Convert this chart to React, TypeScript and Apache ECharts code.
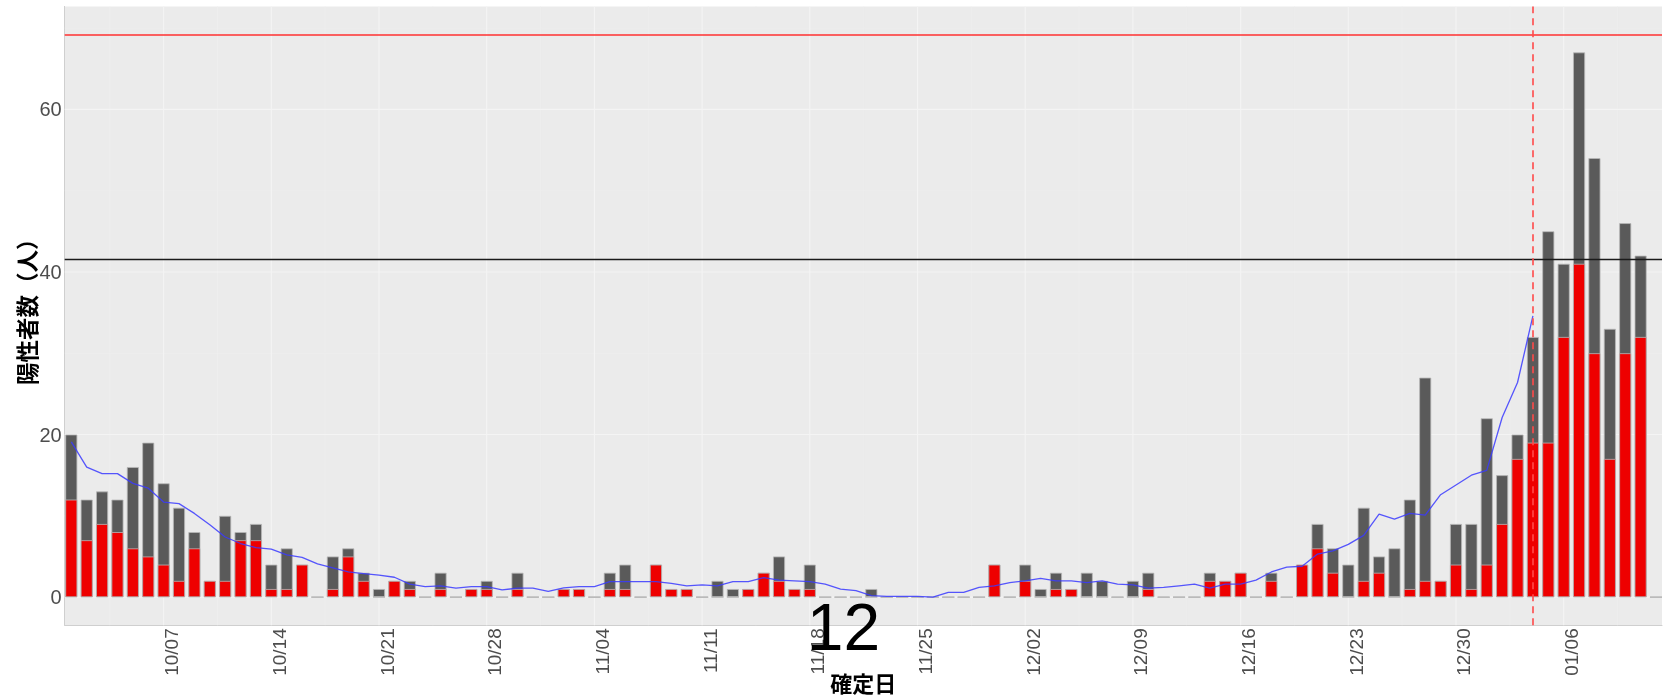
import React, { useEffect, useRef } from "react";
import * as echarts from "echarts";

// ---- data ----
const DATES = [
  "10/01","10/02","10/03","10/04","10/05","10/06","10/07","10/08","10/09","10/10",
  "10/11","10/12","10/13","10/14","10/15","10/16","10/17","10/18","10/19","10/20",
  "10/21","10/22","10/23","10/24","10/25","10/26","10/27","10/28","10/29","10/30",
  "10/31","11/01","11/02","11/03","11/04","11/05","11/06","11/07","11/08","11/09",
  "11/10","11/11","11/12","11/13","11/14","11/15","11/16","11/17","11/18","11/19",
  "11/20","11/21","11/22","11/23","11/24","11/25","11/26","11/27","11/28","11/29",
  "11/30","12/01","12/02","12/03","12/04","12/05","12/06","12/07","12/08","12/09",
  "12/10","12/11","12/12","12/13","12/14","12/15","12/16","12/17","12/18","12/19",
  "12/20","12/21","12/22","12/23","12/24","12/25","12/26","12/27","12/28","12/29",
  "12/30","12/31","01/01","01/02","01/03","01/04","01/05","01/06","01/07","01/08",
  "01/09","01/10","01/11","01/12",
];

const TOTAL = [
  20, 12, 13, 12, 16, 19, 14, 11, 8, 2,
  10, 8, 9, 4, 6, 4, 0, 5, 6, 3,
  1, 2, 2, 0, 3, 0, 1, 2, 0, 3,
  0, 0, 1, 1, 0, 3, 4, 0, 4, 1,
  1, 0, 2, 1, 1, 3, 5, 1, 4, 0,
  0, 0, 1, 0, 0, 0, 0, 0, 0, 0,
  4, 0, 4, 1, 3, 1, 3, 2, 0, 2,
  3, 0, 0, 0, 3, 2, 3, 0, 3, 0,
  4, 9, 6, 4, 11, 5, 6, 12, 27, 2,
  9, 9, 22, 15, 20, 32, 45, 41, 67, 54,
  33, 46, 42, 0,
];

const RED = [
  12, 7, 9, 8, 6, 5, 4, 2, 6, 2,
  2, 7, 7, 1, 1, 4, 0, 1, 5, 2,
  0, 2, 1, 0, 1, 0, 1, 1, 0, 1,
  0, 0, 1, 1, 0, 1, 1, 0, 4, 1,
  1, 0, 0, 0, 1, 3, 2, 1, 1, 0,
  0, 0, 0, 0, 0, 0, 0, 0, 0, 0,
  4, 0, 2, 0, 1, 1, 0, 0, 0, 0,
  1, 0, 0, 0, 2, 2, 3, 0, 2, 0,
  4, 6, 3, 0, 2, 3, 0, 1, 2, 2,
  4, 1, 4, 9, 17, 19, 19, 32, 41, 30,
  17, 30, 32, 0,
];

const TREND = [
  19.1, 16.0, 15.2, 15.2, 14.0, 13.4, 11.7, 11.5, 10.3, 8.9,
  7.4, 6.6, 6.1, 5.9, 5.2, 4.9, 4.1, 3.6, 3.1, 2.9,
  2.7, 2.45, 1.6, 1.3, 1.4, 1.1, 1.3, 1.3, 0.9, 1.1,
  1.1, 0.7, 1.15, 1.3, 1.3, 1.9, 1.9, 1.9, 1.9, 1.7,
  1.4, 1.5, 1.4, 1.9, 1.9, 2.4, 2.1, 2.0, 1.9, 1.6,
  1.0, 0.8, 0.2, 0.1, 0.1, 0.1, 0.0, 0.6, 0.6, 1.2,
  1.4, 1.8, 2.0, 2.3, 2.0, 2.0, 1.8, 2.0, 1.6, 1.5,
  1.1, 1.2, 1.4, 1.6, 1.1, 1.6, 1.6, 2.1, 3.1, 3.7,
  3.8, 5.3, 5.7, 6.5, 7.6, 10.2, 9.6, 10.3, 10.1, 12.6,
  13.8, 15.0, 15.6, 22.1, 26.4, 34.6,
];

const TICK_LABELS = [
  "10/07","10/14","10/21","10/28","11/04","11/11","11/18",
  "11/25","12/02","12/09","12/16","12/23","12/30","01/06",
];
const Y_TICKS = [0, 20, 40, 60];
const Y_MINOR = [10, 30, 50, 70];
const UPPER_LINE = 69.2;
const LOWER_LINE = 41.6;
const MARK_DATE = "01/04";
const ANNOTATION = "12";
const Y_TITLE = "陽性者数（人）";
const X_TITLE = "確定日";

// axis extents (ggplot-like expansion)
const X_MIN = -0.43;
const X_MAX = 103.39;
const Y_MIN = -3.46;
const Y_MAX = 72.66;

const SANS = "'Liberation Sans', Arial, sans-serif";
const CJK = "'Noto Sans CJK JP', 'Noto Sans', sans-serif";

export default function App() {
  const ref = useRef<HTMLDivElement>(null);

  useEffect(() => {
    if (!ref.current) return;
    const chart = echarts.init(ref.current, undefined, { renderer: "svg" });

    const tickIdx = TICK_LABELS.map((l) => DATES.indexOf(l));
    const minorX: number[] = [];
    tickIdx.forEach((t) => minorX.push(t - 3.5));
    minorX.push(tickIdx[tickIdx.length - 1] + 3.5);
    const gridItems: number[][] = [];
    minorX.filter((v) => v > X_MIN && v < X_MAX).forEach((v) => gridItems.push([0, v, 0]));
    Y_MINOR.filter((v) => v > Y_MIN && v < Y_MAX).forEach((v) => gridItems.push([1, v, 0]));
    tickIdx.forEach((v) => gridItems.push([0, v, 1]));
    Y_TICKS.forEach((v) => gridItems.push([1, v, 1]));

    const totalData = TOTAL.map((v, i) => [i, v]);
    const redData = RED.map((v, i) => [i, v]);
    const trendData = TREND.map((v, i) => [i, v]);
    const markIdx = DATES.indexOf(MARK_DATE);

    const option: any = {
      animation: false,
      grid: {
        left: 64.7,
        right: 5,
        top: 6.4,
        bottom: 72.7,
        show: true,
        backgroundColor: "#EBEBEB",
        borderWidth: 0,
        containLabel: false,
        outerBoundsMode: "none",
      },
      xAxis: {
        type: "value",
        min: X_MIN,
        max: X_MAX,
        splitLine: { show: false },
        axisTick: { show: false },
        axisLine: { show: true, onZero: false, lineStyle: { color: "#cfcfcf", width: 1 } },
        axisLabel: {
          customValues: tickIdx,
          formatter: (v: number) => DATES[Math.round(v)] ?? "",
          rotate: 90,
          verticalAlign: "top",
          lineHeight: 16,
          color: "#4d4d4d",
          fontSize: 19,
          fontFamily: SANS,
          margin: 3,
        },
        name: X_TITLE,
        nameLocation: "middle",
        nameGap: 45.5,
        nameMoveOverlap: false,
        nameTextStyle: {
          color: "#000",
          fontSize: 22,
          lineHeight: 22,
          fontFamily: CJK,
          fontWeight: "bold",
        },
      },
      yAxis: {
        type: "value",
        min: Y_MIN,
        max: Y_MAX,
        splitLine: { show: false },
        axisTick: { show: false },
        axisLine: { show: true, onZero: false, lineStyle: { color: "#cfcfcf", width: 1 } },
        axisLabel: {
          customValues: Y_TICKS,
          formatter: (v: number) => String(v),
          color: "#4d4d4d",
          fontSize: 20,
          fontFamily: SANS,
          margin: 3,
        },
        name: Y_TITLE,
        nameLocation: "middle",
        nameRotate: 90,
        nameGap: 27,
        nameMoveOverlap: false,
        nameTextStyle: {
          color: "#000",
          fontSize: 22.5,
          fontFamily: CJK,
          fontWeight: "bold",
          padding: [0, 0, 0, 19],
        },
      },
      graphic: [
        {
          type: "text",
          x: 843.5,
          y: 627,
          z: 100,
          style: {
            text: ANNOTATION,
            fontSize: 66,
            fontFamily: SANS,
            fill: "#000",
            align: "center",
            verticalAlign: "middle",
          },
        },
      ],
      series: [
        {
          type: "custom",
          silent: true,
          z: 1,
          data: gridItems,
          renderItem: (_params: any, api: any) => {
            const orient = api.value(0);
            const v = api.value(1);
            const major = api.value(2) === 1;
            let p1: number[];
            let p2: number[];
            if (orient === 0) {
              p1 = api.coord([v, Y_MIN]);
              p2 = api.coord([v, Y_MAX]);
            } else {
              p1 = api.coord([X_MIN, v]);
              p2 = api.coord([X_MAX, v]);
            }
            return {
              type: "line",
              shape: { x1: p1[0], y1: p1[1], x2: p2[0], y2: p2[1] },
              style: {
                stroke: major ? "#f4f4f4" : "#efefef",
                lineWidth: major ? 1.1 : 0.6,
              },
            };
          },
        },
        {
          type: "bar",
          name: "total",
          data: totalData,
          barWidth: 12,
          barGap: "-100%",
          z: 2,
          itemStyle: { color: "#5a5a5a", borderColor: "#b8b8b8", borderWidth: 0.8 },
        },
        {
          type: "bar",
          name: "red",
          data: redData,
          barWidth: 12,
          barGap: "-100%",
          z: 2,
          itemStyle: { color: "#ee0000", borderColor: "#b8b8b8", borderWidth: 0.8 },
        },
        {
          type: "line",
          name: "trend",
          data: trendData,
          symbol: "none",
          showSymbol: false,
          z: 3,
          lineStyle: { color: "#3a3aff", width: 1.3, opacity: 0.85 },
          markLine: {
            silent: true,
            symbol: ["none", "none"],
            label: { show: false },
            data: [
              { yAxis: UPPER_LINE, lineStyle: { color: "#ff3030", width: 1.5, type: "solid" } },
              { yAxis: LOWER_LINE, lineStyle: { color: "#1a1a1a", width: 1.4, type: "solid" } },
              { xAxis: markIdx, lineStyle: { color: "#ff4a4a", width: 1.6, type: [7, 5] } },
            ],
          },
        },
      ],
    };

    chart.setOption(option);
    return () => chart.dispose();
  }, []);

  return (
    <div
      ref={ref}
      style={{ position: "fixed", left: 0, top: 0, width: 1667, height: 698 }}
    />
  );
}
